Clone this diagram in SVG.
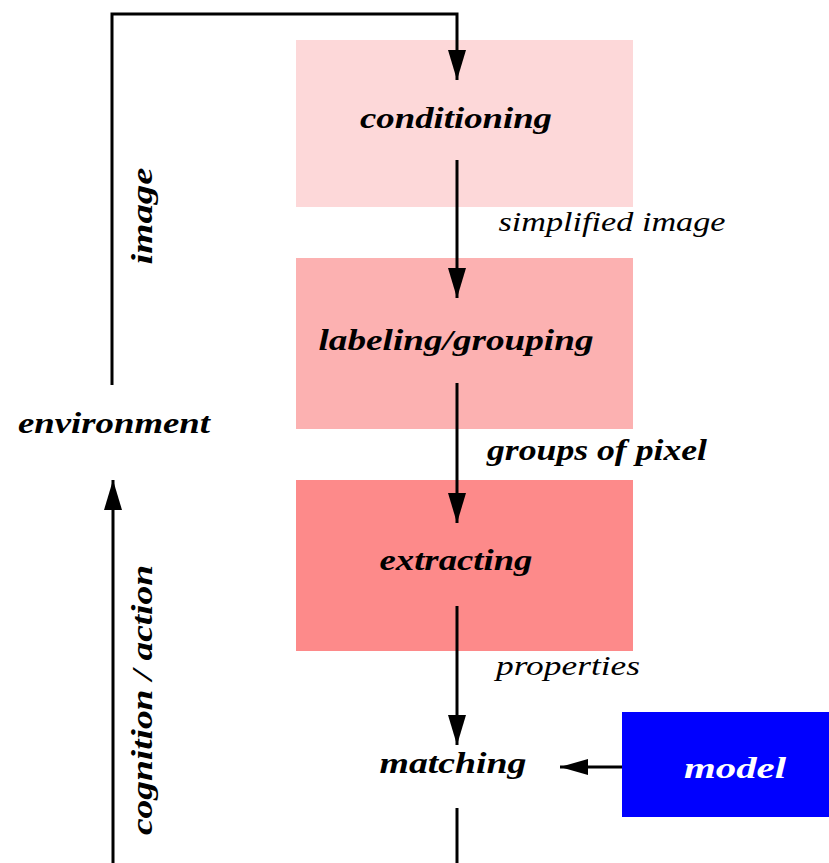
<svg xmlns="http://www.w3.org/2000/svg" width="829" height="863" viewBox="0 0 829 863">
<style>
.lbl{font-family:"Liberation Serif","DejaVu Serif",serif;font-style:italic;font-weight:bold;font-size:29px;fill:#000}
.sub{font-family:"Liberation Serif","DejaVu Serif",serif;font-style:italic;font-weight:normal;font-size:27px;fill:#000}
.ln{fill:none;stroke:#000;stroke-width:3}
</style>
<defs>
<marker id="ah" markerWidth="30" markerHeight="18" refX="30" refY="9" orient="auto" markerUnits="userSpaceOnUse" viewBox="0 0 30 18">
<path d="M0,0 L30,9 L0,18 Z" fill="#000"/>
</marker>
<marker id="ahs" markerWidth="28" markerHeight="16" refX="28" refY="8" orient="auto" markerUnits="userSpaceOnUse" viewBox="0 0 28 16">
<path d="M0,0 L28,8 L0,16 Z" fill="#000"/>
</marker>
</defs>
<rect width="829" height="863" fill="#fff"/>
<g id="conditioning">
<rect x="296" y="40" width="337" height="167" fill="#fdd8d9"/>
<text class="lbl" x="456" y="128" text-anchor="middle" textLength="192" lengthAdjust="spacingAndGlyphs">conditioning</text>
</g>
<g id="labeling">
<rect x="296" y="258" width="337" height="171" fill="#fcb1b1"/>
<text class="lbl" x="456" y="350" text-anchor="middle" textLength="275" lengthAdjust="spacingAndGlyphs">labeling/grouping</text>
</g>
<g id="extracting">
<rect x="296" y="480" width="337" height="171" fill="#fd8a8a"/>
<text class="lbl" x="456" y="570" text-anchor="middle" textLength="153" lengthAdjust="spacingAndGlyphs">extracting</text>
</g>
<g id="matching">
<text class="lbl" x="453" y="773" text-anchor="middle" textLength="147" lengthAdjust="spacingAndGlyphs">matching</text>
</g>
<g id="model">
<rect x="622" y="712" width="207" height="105" fill="#0000ff"/>
<text class="lbl" x="735" y="778" text-anchor="middle" style="fill:#fff" textLength="102" lengthAdjust="spacingAndGlyphs">model</text>
</g>
<g id="environment">
<text class="lbl" x="114" y="433" text-anchor="middle" textLength="192" lengthAdjust="spacingAndGlyphs">environment</text>
</g>
<g id="connectors">
<polyline class="ln" points="112,385 112,14 457,14 457,80" marker-end="url(#ah)"/>
<line class="ln" x1="457" y1="160" x2="457" y2="298" marker-end="url(#ah)"/>
<line class="ln" x1="457" y1="383" x2="457" y2="523" marker-end="url(#ah)"/>
<line class="ln" x1="457" y1="606" x2="457" y2="745" marker-end="url(#ah)"/>
<line class="ln" x1="622" y1="767" x2="560" y2="767" marker-end="url(#ahs)"/>
<line class="ln" x1="457" y1="808" x2="457" y2="863"/>
<line class="ln" x1="113" y1="863" x2="113" y2="480" marker-end="url(#ah)"/>
<text class="sub" x="612" y="231" text-anchor="middle" textLength="227" lengthAdjust="spacingAndGlyphs">simplified image</text>
<text class="lbl" x="597" y="460" text-anchor="middle" textLength="220" lengthAdjust="spacingAndGlyphs">groups of pixel</text>
<text class="sub" x="568" y="675" text-anchor="middle" textLength="144" lengthAdjust="spacingAndGlyphs">properties</text>
<text class="lbl" transform="translate(152,216) rotate(-90)" text-anchor="middle" textLength="97" lengthAdjust="spacingAndGlyphs">image</text>
<text class="lbl" transform="translate(152,700) rotate(-90)" text-anchor="middle" textLength="270" lengthAdjust="spacingAndGlyphs">cognition / action</text>
</g>
</svg>
